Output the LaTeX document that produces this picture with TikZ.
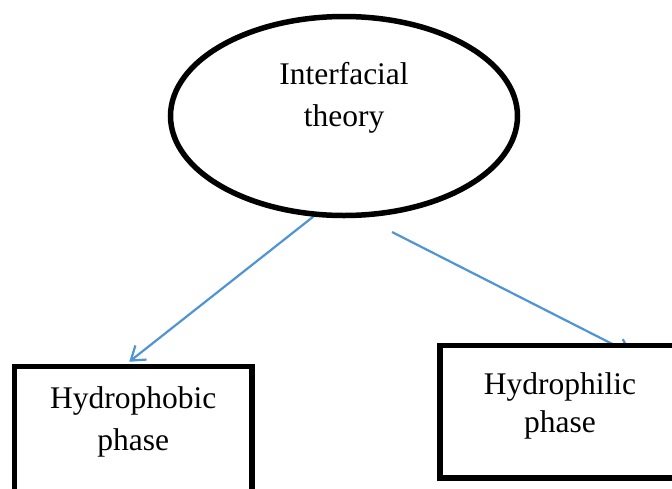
\documentclass[tikz,border=0pt]{standalone}
\usepackage{fontspec}
\setmainfont{Liberation Serif}
\usetikzlibrary{arrows.meta,shapes.geometric}
\pgfdeclarelayer{background}
\pgfsetlayers{background,main}
\definecolor{linkblue}{RGB}{79,148,213}
\tikzset{phasebox/.style={draw,line width=5.5pt,fill=white,align=center,inner sep=0pt}}

\begin{document}
\begin{tikzpicture}[
            x=1pt, y=-1pt,
            font=\fontsize{31.5}{42}\selectfont,
            link/.style={draw=linkblue,line width=2.2pt,-{Straight Barb[length=13pt,width=18pt]}}
            ]
            \useasboundingbox (0,0) rectangle (672,488);
            \node[ellipse,draw,line width=5.5pt,align=center,inner sep=0pt,
                  minimum width=347pt,minimum height=199pt,
                  text height=30pt,text depth=10pt] (theory) at (344,116) {Interfacial\\theory};
            \node[phasebox,minimum width=237.5pt,minimum height=193.5pt,
                  text height=20pt,text depth=46.5pt] (phobic) at (133.25,463.25) {Hydrophobic\\phase};
            \node[phasebox,minimum width=240pt,minimum height=132.5pt,
                  font=\fontsize{31.5}{38}\selectfont,
                  text height=50.5pt,text depth=10pt] (philic) at (560,411.75) {Hydrophilic\\phase};
            \coordinate (philstart) at (392,232);
            \coordinate (philtip) at (632,354);
            \begin{pgfonlayer}{background}
                \draw[link] (theory.-107.5) -- ([xshift=-4pt,yshift=2pt]phobic.north);
                \draw[link] (philstart) -- (philtip);
            \end{pgfonlayer}
        \end{tikzpicture}
\end{document}
